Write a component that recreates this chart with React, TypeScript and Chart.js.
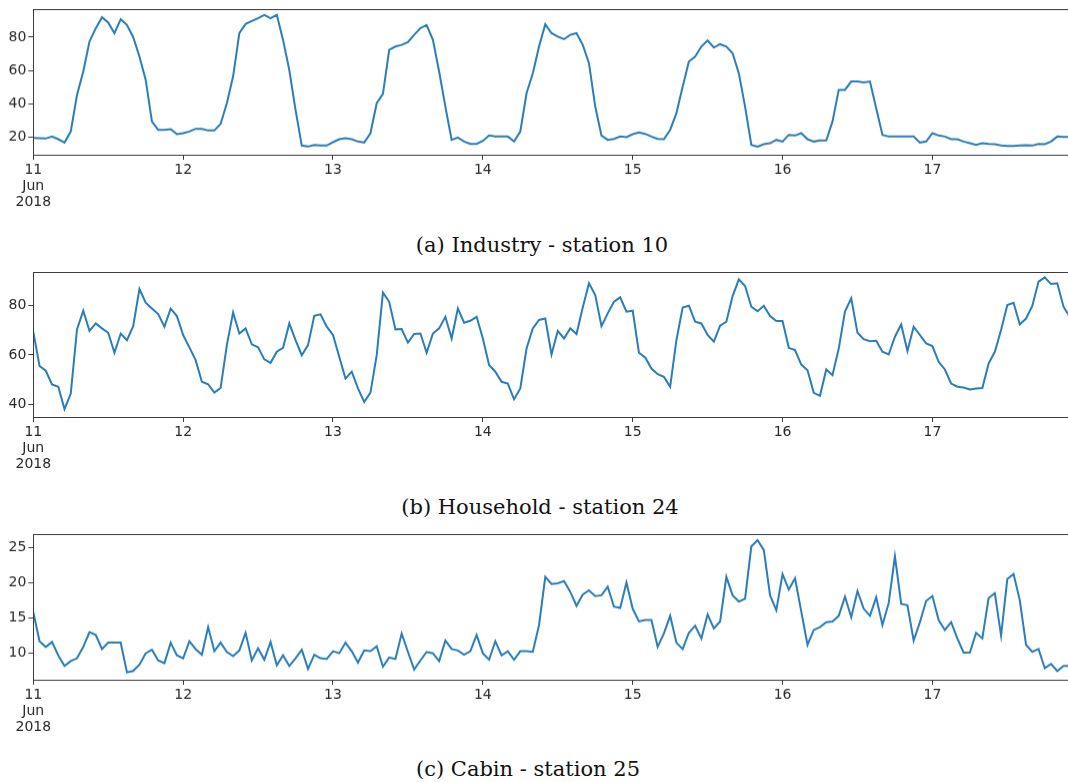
import React, { useEffect, useRef } from "react";
import { Chart, registerables } from "chart.js";

Chart.register(...registerables);

// Hourly readings, 11 Jun 2018 00:00 onwards (one value per hour)
const industry: number[] = [
  19.8, 19.6, 19.4, 20.6, 19.0, 17.0, 23.6, 45.5, 59.4, 77.4, 85.3, 91.9,
  88.7, 82.4, 90.7, 87.3, 80.0, 68.4, 54.5, 29.6, 24.6, 24.6, 25.0, 22.0,
  22.6, 23.6, 25.2, 25.2, 24.2, 24.2, 28.2, 40.5, 56.5, 82.4, 87.9, 89.7,
  91.3, 93.3, 91.3, 93.3, 78.4, 60.4, 36.5, 15.2, 14.6, 15.6, 15.2, 15.2,
  17.2, 19.0, 19.6, 19.0, 17.6, 17.0, 22.6, 40.5, 46.1, 72.4, 74.4, 75.4,
  77.0, 81.4, 85.4, 87.3, 78.4, 59.4, 38.5, 18.6, 20.0, 17.6, 16.2, 16.2,
  18.0, 21.2, 20.6, 20.6, 20.6, 17.6, 23.6, 46.5, 58.4, 74.4, 87.7, 82.4,
  80.4, 78.8, 81.4, 82.4, 75.4, 64.4, 38.5, 21.2, 18.6, 19.2, 20.6, 20.2,
  22.0, 23.0, 22.2, 20.6, 19.2, 19.0, 24.6, 34.5, 50.4, 65.4, 68.4, 74.4,
  78.0, 73.8, 75.8, 74.4, 70.4, 58.4, 38.5, 15.6, 14.6, 16.0, 16.6, 18.6,
  17.6, 21.6, 21.2, 22.6, 19.0, 17.6, 18.2, 18.2, 29.6, 48.5, 48.5, 53.5,
  53.5, 52.9, 53.5, 37.5, 21.6, 20.6, 20.6, 20.6, 20.6, 20.6, 17.0, 17.6,
  22.6, 21.2, 20.6, 19.0, 19.0, 17.6, 16.6, 15.6, 16.6, 16.2, 16.0, 15.2,
  15.0, 15.0, 15.2, 15.4, 15.2, 16.2, 16.0, 17.6, 20.6, 20.4, 20.4, 20.4,
];

const household: number[] = [
  69.4, 55.5, 53.6, 48.0, 47.1, 38.0, 44.3, 70.4, 78.0, 69.8, 72.8, 70.8,
  69.0, 60.9, 68.7, 66.0, 71.7, 86.8, 81.2, 78.9, 76.6, 71.5, 78.8, 75.8,
  68.1, 63.1, 57.9, 49.1, 48.1, 44.7, 46.6, 64.0, 77.3, 68.7, 70.8, 64.3,
  63.1, 58.2, 56.8, 61.3, 62.9, 72.8, 66.0, 59.9, 64.0, 75.9, 76.5, 71.5,
  68.1, 59.3, 50.4, 53.2, 46.4, 40.9, 44.7, 59.9, 85.3, 81.6, 70.4, 70.5,
  65.0, 68.5, 68.7, 60.9, 68.7, 70.8, 75.5, 66.7, 78.9, 73.1, 73.9, 75.5,
  66.7, 55.9, 53.2, 49.1, 48.4, 42.0, 46.4, 62.6, 70.8, 74.2, 74.8, 60.2,
  69.8, 66.7, 70.8, 68.5, 79.3, 89.1, 84.3, 71.7, 76.9, 81.6, 83.4, 77.6,
  78.0, 60.9, 59.0, 54.5, 52.2, 51.1, 47.1, 66.0, 79.3, 80.0, 73.5, 72.8,
  68.1, 65.4, 71.9, 73.5, 83.9, 90.7, 88.0, 79.6, 77.8, 80.0, 75.8, 73.8,
  73.8, 62.9, 62.0, 56.1, 53.8, 44.6, 43.4, 54.1, 51.8, 62.6, 77.6, 83.0,
  69.0, 66.4, 65.6, 65.8, 61.3, 60.2, 67.4, 72.4, 61.6, 71.5, 68.1, 64.7,
  63.6, 57.2, 54.1, 48.4, 47.1, 46.8, 46.0, 46.4, 46.6, 56.5, 61.3, 70.1,
  80.3, 81.2, 72.4, 74.8, 79.9, 89.8, 91.5, 88.8, 89.1, 79.6, 75.5, 73.0,
];

const cabin: number[] = [
  15.8, 11.7, 10.9, 11.6, 9.7, 8.2, 8.9, 9.3, 10.9, 13.0, 12.6, 10.6,
  11.5, 11.5, 11.5, 7.3, 7.5, 8.4, 10.0, 10.5, 9.0, 8.6, 11.5, 9.7,
  9.3, 11.7, 10.6, 9.8, 13.7, 10.3, 11.5, 10.2, 9.6, 10.4, 12.9, 9.0,
  10.7, 9.1, 11.6, 8.3, 9.7, 8.2, 9.3, 10.5, 7.8, 9.8, 9.3, 9.2,
  10.3, 10.0, 11.5, 10.3, 8.7, 10.4, 10.3, 11.0, 8.1, 9.4, 9.2, 12.8,
  10.2, 7.7, 9.0, 10.2, 10.0, 8.9, 11.8, 10.6, 10.4, 9.8, 10.3, 12.6,
  10.0, 9.1, 11.7, 9.7, 10.3, 9.1, 10.3, 10.3, 10.2, 14.0, 20.8, 19.8,
  19.9, 20.2, 18.7, 16.7, 18.3, 18.9, 18.1, 18.2, 19.4, 16.6, 16.4, 20.0,
  16.3, 14.5, 14.7, 14.7, 10.9, 12.8, 15.3, 11.5, 10.6, 12.9, 13.9, 12.1,
  15.5, 13.5, 14.5, 20.8, 18.2, 17.3, 17.7, 25.1, 26.0, 24.6, 18.2, 16.1,
  21.2, 19.0, 20.6, 15.9, 11.2, 13.3, 13.7, 14.4, 14.5, 15.3, 18.0, 15.1,
  18.8, 16.3, 15.3, 17.9, 14.0, 17.1, 23.7, 17.0, 16.8, 11.8, 14.4, 17.4,
  18.1, 14.7, 13.3, 14.4, 12.1, 10.1, 10.1, 12.9, 12.1, 17.8, 18.5, 12.5,
  20.5, 21.2, 17.5, 11.2, 10.2, 10.6, 7.9, 8.5, 7.5, 8.2, 8.2, 8.2,
];

// Day boundaries (hours since start) and their labels
const dayTickHours: number[] = [0, 24, 48, 72, 96, 120, 144];
const dayTickLabels: (string | string[])[] = [
  ["11", "Jun", "2018"], "12", "13", "14", "15", "16", "17",
];

const industryTicks: number[] = [20, 40, 60, 80];
const householdTicks: number[] = [40, 60, 80];
const cabinTicks: number[] = [10, 15, 20, 25];

const LINE_COLOR = "#2a7dba";
const TEXT_COLOR = "#2a2a2a";
const FRAME_COLOR = "#3c3c3c";
const TICK_FONT = { family: "'DejaVu Sans', sans-serif", size: 14, lineHeight: 1.15 };

const CANVAS_W = 1078;
const PAD_TOP = 12;
const AXIS_W = 33.3;
const X_AXIS_H = 58;
const PLOT_H = 145.5;

const framePlugin = {
  id: "frame",
  afterDraw(chart: any) {
    const { ctx, chartArea } = chart;
    ctx.save();
    ctx.strokeStyle = FRAME_COLOR;
    ctx.lineWidth = 1;
    ctx.strokeRect(
      Math.round(chartArea.left) + 0.5,
      Math.round(chartArea.top) + 0.5,
      Math.round(chartArea.right - chartArea.left),
      Math.round(chartArea.bottom - chartArea.top)
    );
    ctx.restore();
  },
};

type PanelProps = {
  values: number[];
  yMin: number;
  yMax: number;
  yTicks: number[];
  plotTop: number;
};

function Panel({ values, yMin, yMax, yTicks, plotTop }: PanelProps) {
  const ref = useRef<HTMLCanvasElement | null>(null);
  const height = PAD_TOP + PLOT_H + X_AXIS_H;

  useEffect(() => {
    if (!ref.current) return;
    const points = values.map((v, i) => ({ x: i, y: v }));
    const chart = new Chart(ref.current, {
      type: "line",
      data: {
        datasets: [
          {
            data: points,
            borderColor: LINE_COLOR,
            borderWidth: 2,
            pointRadius: 0,
            tension: 0,
            fill: false,
          },
        ],
      },
      options: {
        animation: false,
        responsive: false,
        devicePixelRatio: 1,
        parsing: false,
        layout: { padding: { top: PAD_TOP, right: 2, left: 0, bottom: 0 } },
        plugins: { legend: { display: false }, tooltip: { enabled: false } },
        scales: {
          x: {
            type: "linear",
            min: 0,
            max: values.length - 1,
            afterBuildTicks: (scale: any) => {
              scale.ticks = dayTickHours.map((h) => ({ value: h }));
            },
            afterFit: (scale: any) => {
              scale.height = X_AXIS_H;
            },
            border: { display: false },
            grid: {
              drawOnChartArea: false,
              drawTicks: true,
              tickLength: 5,
              color: FRAME_COLOR,
              lineWidth: 1,
            },
            ticks: {
              autoSkip: false,
              maxRotation: 0,
              padding: 2,
              color: TEXT_COLOR,
              font: TICK_FONT,
              callback: (value: any) => {
                const idx = dayTickHours.indexOf(Number(value));
                return idx >= 0 ? dayTickLabels[idx] : "";
              },
            },
          },
          y: {
            type: "linear",
            min: yMin,
            max: yMax,
            afterBuildTicks: (scale: any) => {
              scale.ticks = yTicks.map((v) => ({ value: v }));
            },
            afterFit: (scale: any) => {
              scale.width = AXIS_W;
            },
            border: { display: false },
            grid: {
              drawOnChartArea: false,
              drawTicks: true,
              tickLength: 5,
              color: FRAME_COLOR,
              lineWidth: 1,
            },
            ticks: {
              padding: 2,
              color: TEXT_COLOR,
              font: TICK_FONT,
              callback: (value: any) => String(value),
            },
          },
        },
      },
      plugins: [framePlugin],
    });
    return () => chart.destroy();
  }, [values, yMin, yMax, yTicks]);

  return (
    <canvas
      ref={ref}
      width={CANVAS_W}
      height={height}
      style={{
        position: "absolute",
        left: 0,
        top: plotTop - PAD_TOP,
        width: CANVAS_W,
        height,
      }}
    />
  );
}

function Caption({ text, centerX, centerY }: { text: string; centerX: number; centerY: number }) {
  return (
    <div
      style={{
        position: "absolute",
        left: centerX - 300,
        width: 600,
        top: centerY - 12,
        height: 24,
        lineHeight: "24px",
        textAlign: "center",
        fontFamily: "'DejaVu Serif', serif",
        fontSize: 21,
        color: "#111",
        whiteSpace: "nowrap",
      }}
    >
      {text}
    </div>
  );
}

export default function App() {
  return (
    <div
      style={{
        position: "fixed",
        left: 0,
        top: 0,
        width: 1068,
        height: 782,
        overflow: "hidden",
        background: "#ffffff",
      }}
    >
      <Panel values={industry} yMin={9.7} yMax={96.8} yTicks={industryTicks} plotTop={9.3} />
      <Caption text="(a) Industry - station 10" centerX={542} centerY={245} />
      <Panel values={household} yMin={34.8} yMax={93.7} yTicks={householdTicks} plotTop={271.7} />
      <Caption text="(b) Household - station 24" centerX={540} centerY={507} />
      <Panel values={cabin} yMin={6.26} yMax={26.85} yTicks={cabinTicks} plotTop={534} />
      <Caption text="(c) Cabin - station 25" centerX={528} centerY={769} />
    </div>
  );
}
